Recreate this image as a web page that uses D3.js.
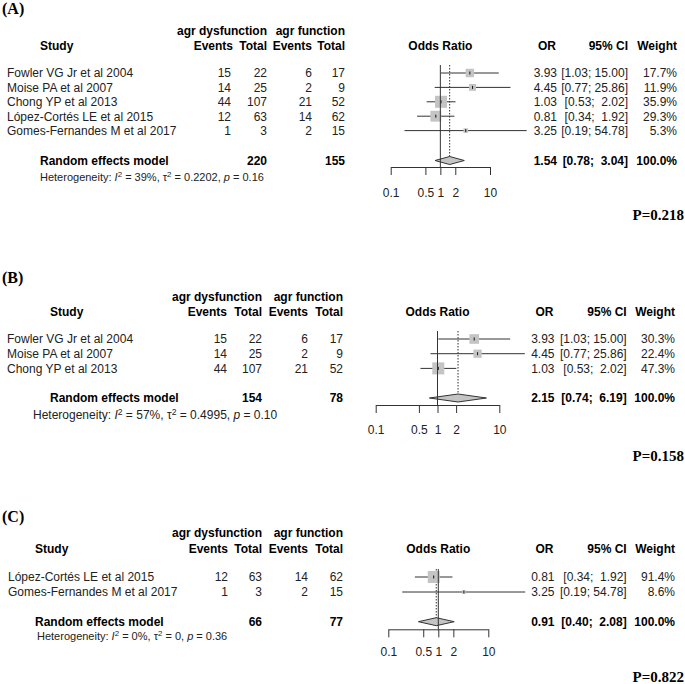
<!DOCTYPE html>
<html><head><meta charset="utf-8">
<script src="https://cdn.jsdelivr.net/npm/d3@7"></script>
<style>
body{margin:0;background:#fff}
svg text{font-family:"Liberation Sans",Arial,sans-serif;white-space:pre}
</style></head><body>
<svg id="c" width="685" height="684"></svg>
<script>
// ---------- DATA ----------
const studiesA = ["Fowler VG Jr et al 2004","Moise PA et al 2007","Chong YP et al 2013","López-Cortés LE et al 2015","Gomes-Fernandes M et al 2017"];
const eventsDysA = [15,14,44,12,1];
const totalDysA  = [22,25,107,63,3];
const eventsFunA = [6,2,21,14,2];
const totalFunA  = [17,9,52,62,15];
const orA     = [3.93,4.45,1.03,0.81,3.25];
const lowerA  = [1.03,0.77,0.53,0.34,0.19];
const upperA  = [15.00,25.86,2.02,1.92,54.78];
const weightA = [17.7,11.9,35.9,29.3,5.3];
const summaryA = [1.54,0.78,3.04];
const totalsA  = [220,155];
const hetA = ["39%","0.2202","0.16"];
const pA = "P=0.218";

const studiesB = ["Fowler VG Jr et al 2004","Moise PA et al 2007","Chong YP et al 2013"];
const eventsDysB = [15,14,44];
const totalDysB  = [22,25,107];
const eventsFunB = [6,2,21];
const totalFunB  = [17,9,52];
const orB     = [3.93,4.45,1.03];
const lowerB  = [1.03,0.77,0.53];
const upperB  = [15.00,25.86,2.02];
const weightB = [30.3,22.4,47.3];
const summaryB = [2.15,0.74,6.19];
const totalsB  = [154,78];
const hetB = ["57%","0.4995","0.10"];
const pB = "P=0.158";

const studiesC = ["López-Cortés LE et al 2015","Gomes-Fernandes M et al 2017"];
const eventsDysC = [12,1];
const totalDysC  = [63,3];
const eventsFunC = [14,2];
const totalFunC  = [62,15];
const orC     = [0.81,3.25];
const lowerC  = [0.34,0.19];
const upperC  = [1.92,54.78];
const weightC = [91.4,8.6];
const summaryC = [0.91,0.40,2.08];
const totalsC  = [66,77];
const hetC = ["0%","0","0.36"];
const pC = "P=0.822";

const tickValues = [0.1,0.5,1,2,10];
const tickLabels = ["0.1","0.5","1","2","10"];
const panelLabels = ["(A)","(B)","(C)"];

// ---------- LAYOUT ----------
const layouts = [
 {labelY:14, h1:35, h2:49.5, rows:[73,130.6], sumY:160.5, axisY:167, tickLabY:196.5, hetY:181, pY:220,
  xr:[390.7,490], studyX:7, studyHdrX:40, reX:40, hetX:40, ev1:231, ev1H:233, tot1:267, ev2:312, tot2:345,
  orX:557, ciX:628, wX:677, hetFs:11},
 {labelY:283, h1:301, h2:316, rows:[339,368.4], sumY:398, axisY:405, tickLabY:434, hetY:419, pY:461,
  xr:[375.7,499.3], studyX:7, studyHdrX:50, reX:50, hetX:33, ev1:227, ev1H:227, tot1:262, ev2:308, tot2:343,
  orX:554.5, ciX:626.7, wX:675, hetFs:12},
 {labelY:522, h1:537, h2:553, rows:[577,592], sumY:621.7, axisY:629.3, tickLabY:656.5, hetY:639.5, pY:682,
  xr:[388.3,488.3], studyX:8, studyHdrX:35, reX:35, hetX:37, ev1:228, ev1H:228, tot1:262, ev2:308, tot2:343,
  orX:554.5, ciX:626.7, wX:675, hetFs:11}
];

const panels = [
 {studies:studiesA, ed:eventsDysA, td:totalDysA, ef:eventsFunA, tf:totalFunA, or:orA, lo:lowerA, up:upperA, w:weightA, sum:summaryA, tot:totalsA, het:hetA, p:pA},
 {studies:studiesB, ed:eventsDysB, td:totalDysB, ef:eventsFunB, tf:totalFunB, or:orB, lo:lowerB, up:upperB, w:weightB, sum:summaryB, tot:totalsB, het:hetB, p:pB},
 {studies:studiesC, ed:eventsDysC, td:totalDysC, ef:eventsFunC, tf:totalFunC, or:orC, lo:lowerC, up:upperC, w:weightC, sum:summaryC, tot:totalsC, het:hetC, p:pC}
];

const svg = d3.select("#c");
const TXT = "#222", LINE = "#333", FILL = "#c4c4c4";
const f2 = d => d.toFixed(2);
const ciStr = (l,u) => "[" + f2(l) + "; " + f2(u).padStart(5," ") + "]";

panels.forEach((P, pi) => {
  const L = layouts[pi];
  const g = svg.append("g");
  const n = P.studies.length;
  const x = d3.scaleLog().domain([0.1,10]).range(L.xr);
  const y = d3.scalePoint().domain(d3.range(n)).range(L.rows);
  const sq = d3.scaleSqrt().domain([0, d3.max(P.w)]).range([0, 12]);

  const txt = (xx, yy, s, opt={}) => g.append("text").attr("x", xx).attr("y", yy)
      .attr("text-anchor", opt.anchor || "start").attr("font-size", opt.fs || 12)
      .attr("font-weight", opt.bold ? "bold" : "normal").attr("fill", opt.fill || TXT).text(s);

  // panel label
  g.append("text").attr("x", 2).attr("y", L.labelY).attr("font-size", 16).attr("font-weight","bold")
    .style("font-family", '"Liberation Serif","Times New Roman",serif').attr("fill","#000").text(panelLabels[pi]);

  // headers
  txt(L.tot1, L.h1, "agr dysfunction", {anchor:"end", bold:true, fill:"#000"});
  txt(L.tot2, L.h1, "agr function", {anchor:"end", bold:true, fill:"#000"});
  txt(L.studyHdrX, L.h2, "Study", {bold:true, fill:"#000"});
  txt(L.ev1H, L.h2, "Events", {anchor:"end", bold:true, fill:"#000"});
  txt(L.tot1, L.h2, "Total", {anchor:"end", bold:true, fill:"#000"});
  txt(L.ev2, L.h2, "Events", {anchor:"end", bold:true, fill:"#000"});
  txt(L.tot2, L.h2, "Total", {anchor:"end", bold:true, fill:"#000"});
  txt(x(Math.sqrt(0.1*10)) , L.h2, "Odds Ratio", {anchor:"middle", bold:true, fill:"#000"});
  txt(L.orX - 1, L.h2, "OR", {anchor:"end", bold:true, fill:"#000"});
  txt(L.ciX, L.h2, "95% CI", {anchor:"end", bold:true, fill:"#000"});
  txt(L.wX, L.h2, "Weight", {anchor:"end", bold:true, fill:"#000"});

  // study rows (text)
  d3.range(n).forEach(i => {
    const by = y(i) + 4.3;
    txt(L.studyX, by, P.studies[i]);
    txt(L.ev1, by, String(P.ed[i]), {anchor:"end"});
    txt(L.tot1, by, String(P.td[i]), {anchor:"end"});
    txt(L.ev2, by, String(P.ef[i]), {anchor:"end"});
    txt(L.tot2, by, String(P.tf[i]), {anchor:"end"});
    txt(L.orX, by, f2(P.or[i]), {anchor:"end"});
    txt(L.ciX, by, ciStr(P.lo[i], P.up[i]), {anchor:"end"});
    txt(L.wX, by, P.w[i].toFixed(1) + "%", {anchor:"end"});
  });

  // summary row text
  const sb = L.sumY + 4.3;
  txt(L.reX, sb, "Random effects model", {bold:true, fill:"#000"});
  txt(L.tot1, sb, String(P.tot[0]), {anchor:"end", bold:true, fill:"#000"});
  txt(L.tot2, sb, String(P.tot[1]), {anchor:"end", bold:true, fill:"#000"});
  txt(L.orX, sb, f2(P.sum[0]), {anchor:"end", bold:true, fill:"#000"});
  txt(L.ciX, sb, ciStr(P.sum[1], P.sum[2]), {anchor:"end", bold:true, fill:"#000"});
  txt(L.wX, sb, "100.0%", {anchor:"end", bold:true, fill:"#000"});

  // heterogeneity
  const h = g.append("text").attr("x", L.hetX).attr("y", L.hetY).attr("font-size", L.hetFs).attr("fill", TXT);
  h.append("tspan").text("Heterogeneity: ");
  h.append("tspan").attr("font-style","italic").text("I");
  h.append("tspan").attr("dy", -4).attr("font-size", L.hetFs*0.72).text("2");
  h.append("tspan").attr("dy", 4).text(" = " + P.het[0] + ", τ");
  h.append("tspan").attr("dy", -4).attr("font-size", L.hetFs*0.72).text("2");
  h.append("tspan").attr("dy", 4).text(" = " + P.het[1] + ", ");
  h.append("tspan").attr("font-style","italic").text("p");
  h.append("tspan").text(" = " + P.het[2]);

  // P value label
  g.append("text").attr("x", 684).attr("y", L.pY).attr("text-anchor","end").attr("font-size", 15)
    .attr("font-weight","bold").style("font-family",'"Liberation Serif","Times New Roman",serif')
    .attr("fill","#000").text(P.p);

  // forest marks
  const topY = L.rows[0] - 8;
  g.append("line").attr("x1", x(P.sum[0])).attr("x2", x(P.sum[0])).attr("y1", topY).attr("y2", L.sumY + 4)
    .attr("stroke", LINE).attr("stroke-width", 1).attr("stroke-dasharray", "1.5,1.5");
  g.selectAll(null).data(d3.range(n)).join("line")
    .attr("x1", i => x(P.lo[i])).attr("x2", i => x(P.up[i]))
    .attr("y1", i => y(i)).attr("y2", i => y(i)).attr("stroke", LINE).attr("stroke-width", 1);
  g.selectAll(null).data(d3.range(n)).join("rect")
    .attr("x", i => x(P.or[i]) - sq(P.w[i])/2).attr("y", i => y(i) - sq(P.w[i])/2)
    .attr("width", i => sq(P.w[i])).attr("height", i => sq(P.w[i])).attr("fill", FILL);
  g.selectAll(null).data(d3.range(n)).join("line")
    .attr("x1", i => x(P.or[i])).attr("x2", i => x(P.or[i]))
    .attr("y1", i => y(i) - 1.5).attr("y2", i => y(i) + 1.5).attr("stroke", "#111").attr("stroke-width", 1);
  const dh = 4;
  g.append("path").attr("d", `M${x(P.sum[1])},${L.sumY}L${x(P.sum[0])},${L.sumY-dh}L${x(P.sum[2])},${L.sumY}L${x(P.sum[0])},${L.sumY+dh}Z`)
    .attr("fill", FILL).attr("stroke", LINE).attr("stroke-width", 1);
  g.append("line").attr("x1", x(1)).attr("x2", x(1)).attr("y1", topY).attr("y2", L.axisY)
    .attr("stroke", LINE).attr("stroke-width", 1);

  const ax = g.append("g").attr("transform", `translate(0,${L.axisY})`)
    .call(d3.axisBottom(x).tickValues(tickValues).tickFormat((d,i) => tickLabels[i]).tickSize(8).tickSizeOuter(0));
  ax.select(".domain").attr("stroke", LINE);
  ax.selectAll(".tick line").attr("stroke", LINE);
  ax.selectAll(".tick text").attr("y", L.tickLabY - L.axisY).attr("dy", 0)
    .attr("font-size", 12).attr("fill", TXT).style("font-family",'"Liberation Sans",Arial,sans-serif');
});
</script>
</body></html>
